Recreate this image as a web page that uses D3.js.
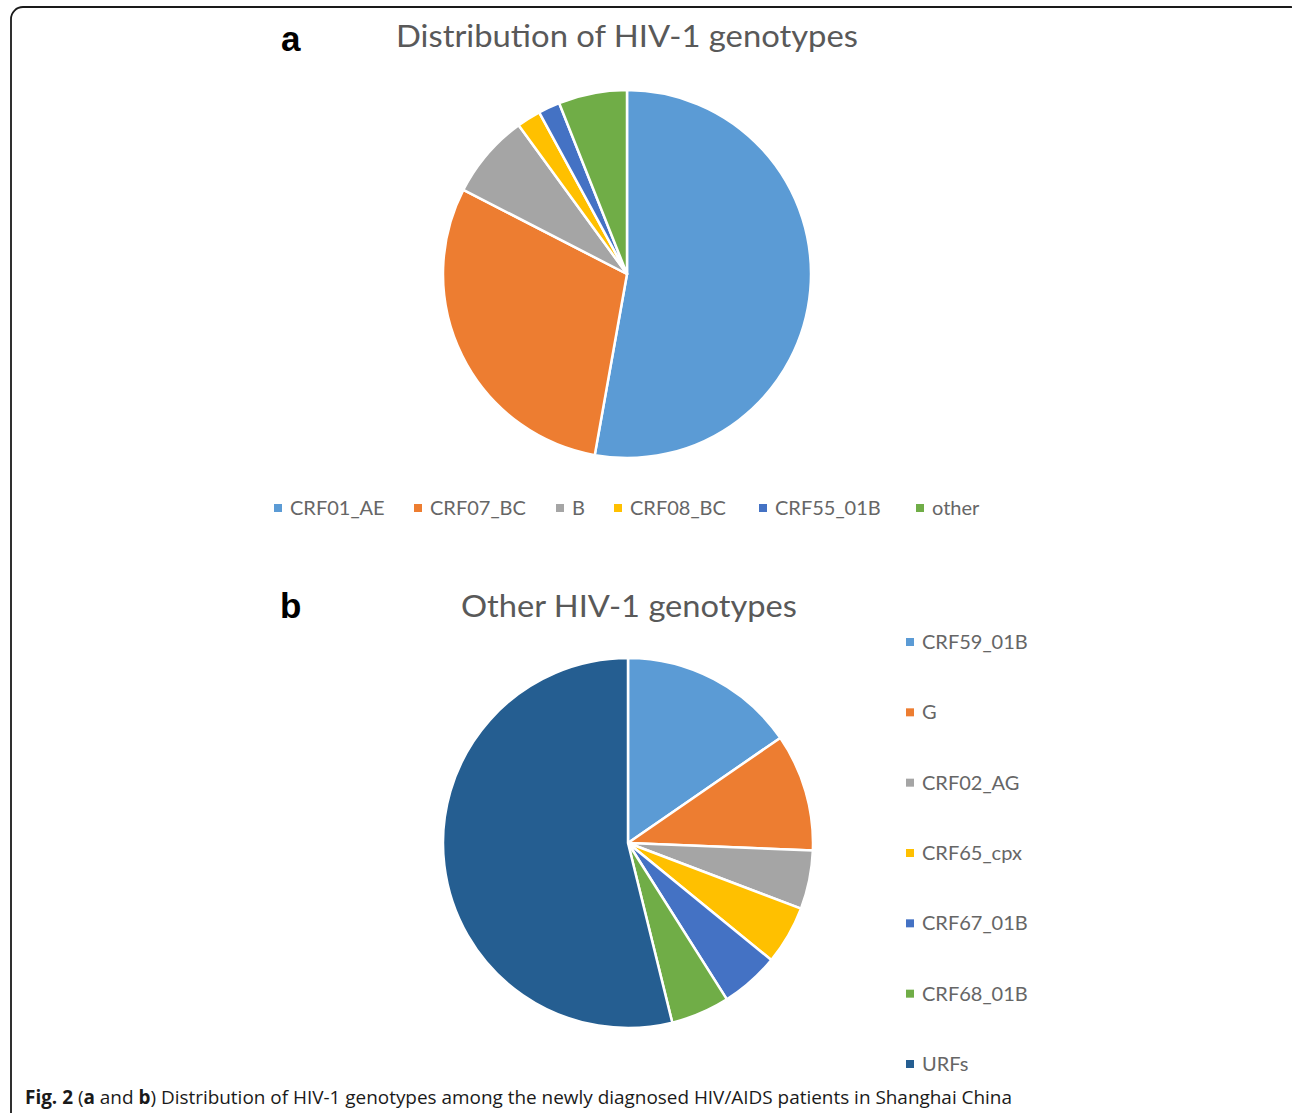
<!DOCTYPE html>
<html><head><meta charset="utf-8">
<script src="https://cdn.jsdelivr.net/npm/d3@7"></script>
<style>body{margin:0;background:#fff}svg{display:block}</style>
</head><body>
<script>
// Panel a
const catsA = ["CRF01_AE","CRF07_BC","B","CRF08_BC","CRF55_01B","other"];
const valsA = [52.7, 29.7, 7.4, 2.1, 1.9, 6.0];
const colorsA = ["#5B9BD5","#ED7D31","#A5A5A5","#FFC000","#4472C4","#70AD47"];
// Panel b
const catsB = ["CRF59_01B","G","CRF02_AG","CRF65_cpx","CRF67_01B","CRF68_01B","URFs"];
const valsB = [6, 4, 2, 2, 2, 2, 21];
const colorsB = ["#5B9BD5","#ED7D31","#A5A5A5","#FFC000","#4472C4","#70AD47","#255E91"];

const W = 1292, H = 1113;
const svg = d3.select("body").append("svg").attr("width", W).attr("height", H);

// frame
svg.append("rect").attr("x", 11).attr("y", 7).attr("width", 1292).attr("height", 1140)
  .attr("rx", 12).attr("fill", "none").attr("stroke", "#1a1a1a").attr("stroke-width", 1.8);

const titleFont = "Lato, 'Liberation Sans', sans-serif";

function pie(cx, cy, r, vals, colors) {
  const arcs = d3.pie().sort(null).value(d => d)(vals);
  const arc = d3.arc().innerRadius(0).outerRadius(r);
  svg.append("g").attr("transform", `translate(${cx},${cy})`)
    .selectAll("path").data(arcs).join("path")
    .attr("d", arc).attr("fill", (d, i) => colors[i])
    .attr("stroke", "#fff").attr("stroke-width", 2.5).attr("stroke-linejoin", "round");
}

// Panel a
svg.append("text").attr("x", 281).attr("y", 51).text("a")
  .attr("font-family", "'Liberation Sans', Arial, sans-serif").attr("font-weight", "bold")
  .attr("font-size", 35).attr("fill", "#000");
svg.append("text").attr("x", 396).attr("y", 47).text("Distribution of HIV-1 genotypes")
  .attr("font-family", titleFont).attr("font-size", 30).attr("fill", "#595959")
  .attr("textLength", 462).attr("lengthAdjust", "spacingAndGlyphs");
pie(627, 274, 184, valsA, colorsA);

const legAx = [274, 414, 556, 614, 759, 916];
const legA = svg.append("g");
catsA.forEach((c, i) => {
  legA.append("rect").attr("x", legAx[i]).attr("y", 504).attr("width", 8).attr("height", 8).attr("fill", colorsA[i]);
  legA.append("text").attr("x", legAx[i] + 16).attr("y", 515).text(c)
    .attr("font-family", titleFont).attr("font-size", 20).attr("fill", "#666");
});

// Panel b
svg.append("text").attr("x", 280).attr("y", 618).text("b")
  .attr("font-family", "'Liberation Sans', Arial, sans-serif").attr("font-weight", "bold")
  .attr("font-size", 35).attr("fill", "#000");
svg.append("text").attr("x", 461).attr("y", 617).text("Other HIV-1 genotypes")
  .attr("font-family", titleFont).attr("font-size", 30).attr("fill", "#595959")
  .attr("textLength", 336).attr("lengthAdjust", "spacingAndGlyphs");
pie(628, 843, 185, valsB, colorsB);

const legBy = d3.scalePoint().domain(catsB).range([641, 1063]);
const legB = svg.append("g");
catsB.forEach((c, i) => {
  const y = legBy(c);
  legB.append("rect").attr("x", 906).attr("y", y - 3).attr("width", 8).attr("height", 8).attr("fill", colorsB[i]);
  legB.append("text").attr("x", 922).attr("y", y + 8).text(c)
    .attr("font-family", titleFont).attr("font-size", 20).attr("fill", "#666");
});

// caption
const cap = svg.append("text").attr("x", 25).attr("y", 1104)
  .attr("font-family", "'Open Sans', 'Liberation Sans', sans-serif").attr("font-size", 19).attr("fill", "#1a1a1a")
  .attr("textLength", 987).attr("lengthAdjust", "spacingAndGlyphs");
cap.append("tspan").attr("font-weight", "bold").text("Fig. 2");
cap.append("tspan").text(" (");
cap.append("tspan").attr("font-weight", "bold").text("a");
cap.append("tspan").text(" and ");
cap.append("tspan").attr("font-weight", "bold").text("b");
cap.append("tspan").text(") Distribution of HIV-1 genotypes among the newly diagnosed HIV/AIDS patients in Shanghai China");
</script>
</body></html>
